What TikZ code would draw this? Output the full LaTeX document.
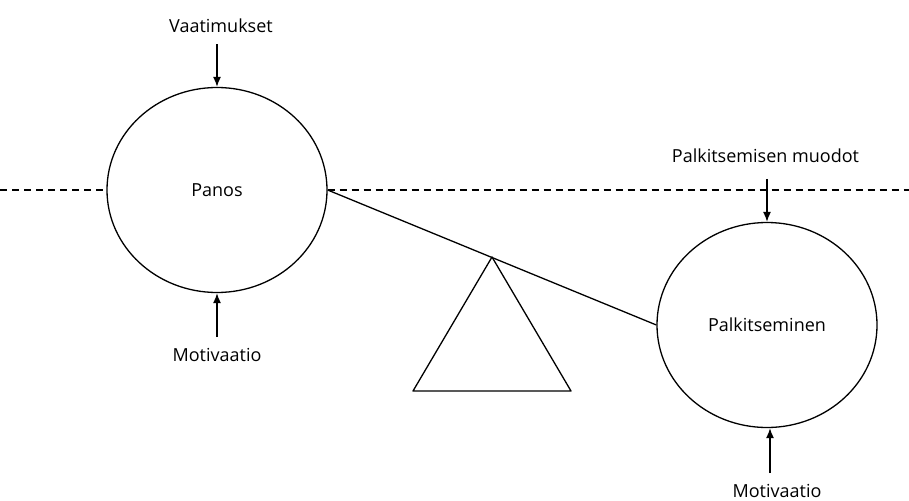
\documentclass[tikz,border=0pt]{standalone}
\usepackage{fontspec}
\setmainfont{Open Sans}
\usetikzlibrary{shapes.geometric,arrows.meta}
\begin{document}
\begin{tikzpicture}[x=1pt,y=-1pt,
  line width=1.3pt,
  circ/.style={draw,ellipse,minimum width=220pt,minimum height=205pt,inner sep=0pt,font=\fontsize{18}{20}\selectfont},
  lbl/.style={inner sep=0pt,text height=12.5pt,text depth=0pt,font=\fontsize{18}{20}\selectfont},
  arr/.style={-{Latex[length=10pt,width=8pt]},shorten <=11pt},
  dashln/.style={dash pattern=on 7pt off 5pt,line width=1.1pt}]
\useasboundingbox (0,0) rectangle (909,500);
\node[circ] (panos) at (217,190) {Panos};
\node[circ] (palk) at (767,325) {Palkitseminen};
\coordinate (dl) at (0,190);
\coordinate (dr) at (909,190);
\draw[dashln] (dl) -- (panos.west);
\draw[dashln] (panos.east) -- (dr);
\draw (panos.east) -- (palk.west);
\coordinate (apex) at (492,257);
\coordinate (bl) at (413,391);
\coordinate (br) at (571,391);
\draw[line join=round] (apex) -- (bl) -- (br) -- cycle;
\node[lbl] (vaat) at (221,26.5) {Vaatimukset};
\node[lbl] (mot1) at (217,355) {Motivaatio};
\node[lbl] (muod) at (765.5,156) {Palkitsemisen muodot};
\node[lbl] (mot2) at (777,491) {Motivaatio};
\draw[arr] (vaat.south -| panos.north) -- (panos.north);
\draw[arr] (mot1.north -| panos.south) -- (panos.south);
\draw[arr,shorten <=16pt] (muod.south -| palk.north) -- (palk.north);
\draw[arr] ([xshift=3pt]mot2.north -| palk.south) -- ([xshift=3pt]palk.south);
\end{tikzpicture}
\end{document}
